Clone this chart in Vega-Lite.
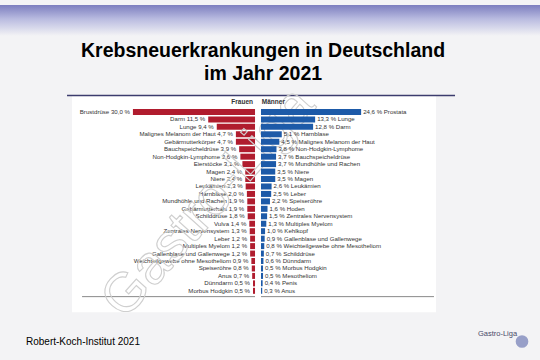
{
  "$schema": "https://vega.github.io/schema/vega-lite/v6.json",
  "width": 540,
  "height": 360,
  "autosize": {"type": "fit", "contains": "padding"},
  "padding": 0,
  "background": "#f3f3f5",
  "config": {"view": {"stroke": null}, "font": "Liberation Sans"},
  "datasets": {
    "deko": [{"k": 1}],
    "frauen": [
      {"rank": 1, "value": 30.0, "label": "Brustdrüse 30,0 %"},
      {"rank": 2, "value": 11.5, "label": "Darm 11,5 %"},
      {"rank": 3, "value": 9.4, "label": "Lunge 9,4 %"},
      {"rank": 4, "value": 4.7, "label": "Malignes Melanom der Haut 4,7 %"},
      {"rank": 5, "value": 4.7, "label": "Gebärmutterkörper 4,7 %"},
      {"rank": 6, "value": 3.9, "label": "Bauchspeicheldrüse 3,9 %"},
      {"rank": 7, "value": 3.6, "label": "Non-Hodgkin-Lymphome 3,6 %"},
      {"rank": 8, "value": 3.1, "label": "Eierstöcke 3,1 %"},
      {"rank": 9, "value": 2.4, "label": "Magen 2,4 %"},
      {"rank": 10, "value": 2.4, "label": "Niere 2,4 %"},
      {"rank": 11, "value": 2.3, "label": "Leukämien 2,3 %"},
      {"rank": 12, "value": 2.0, "label": "Harnblase 2,0 %"},
      {"rank": 13, "value": 1.9, "label": "Mundhöhle und Rachen 1,9 %"},
      {"rank": 14, "value": 1.9, "label": "Gebärmutterhals 1,9 %"},
      {"rank": 15, "value": 1.8, "label": "Schilddrüse 1,8 %"},
      {"rank": 16, "value": 1.4, "label": "Vulva 1,4 %"},
      {"rank": 17, "value": 1.3, "label": "Zentrales Nervensystem 1,3 %"},
      {"rank": 18, "value": 1.2, "label": "Leber 1,2 %"},
      {"rank": 19, "value": 1.2, "label": "Multiples Myelom 1,2 %"},
      {"rank": 20, "value": 1.2, "label": "Gallenblase und Gallenwege 1,2 %"},
      {"rank": 21, "value": 0.9, "label": "Weichteilgewebe ohne Mesotheliom 0,9 %"},
      {"rank": 22, "value": 0.8, "label": "Speiseröhre 0,8 %"},
      {"rank": 23, "value": 0.7, "label": "Anus 0,7 %"},
      {"rank": 24, "value": 0.5, "label": "Dünndarm 0,5 %"},
      {"rank": 25, "value": 0.5, "label": "Morbus Hodgkin 0,5 %"}
    ],
    "maenner": [
      {"rank": 1, "value": 24.6, "label": "24,6 % Prostata"},
      {"rank": 2, "value": 13.3, "label": "13,3 % Lunge"},
      {"rank": 3, "value": 12.8, "label": "12,8 % Darm"},
      {"rank": 4, "value": 5.1, "label": "5,1 % Harnblase"},
      {"rank": 5, "value": 4.5, "label": "4,5 % Malignes Melanom der Haut"},
      {"rank": 6, "value": 3.8, "label": "3,8 % Non-Hodgkin-Lymphome"},
      {"rank": 7, "value": 3.7, "label": "3,7 % Bauchspeicheldrüse"},
      {"rank": 8, "value": 3.7, "label": "3,7 % Mundhöhle und Rachen"},
      {"rank": 9, "value": 3.5, "label": "3,5 % Niere"},
      {"rank": 10, "value": 3.5, "label": "3,5 % Magen"},
      {"rank": 11, "value": 2.6, "label": "2,6 % Leukämien"},
      {"rank": 12, "value": 2.5, "label": "2,5 % Leber"},
      {"rank": 13, "value": 2.2, "label": "2,2 % Speiseröhre"},
      {"rank": 14, "value": 1.6, "label": "1,6 % Hoden"},
      {"rank": 15, "value": 1.5, "label": "1,5 % Zentrales Nervensystem"},
      {"rank": 16, "value": 1.3, "label": "1,3 % Multiples Myelom"},
      {"rank": 17, "value": 1.0, "label": "1,0 % Kehlkopf"},
      {"rank": 18, "value": 0.9, "label": "0,9 % Gallenblase und Gallenwege"},
      {"rank": 19, "value": 0.8, "label": "0,8 % Weichteilgewebe ohne Mesotheliom"},
      {"rank": 20, "value": 0.7, "label": "0,7 % Schilddrüse"},
      {"rank": 21, "value": 0.6, "label": "0,6 % Dünndarm"},
      {"rank": 22, "value": 0.5, "label": "0,5 % Morbus Hodgkin"},
      {"rank": 23, "value": 0.5, "label": "0,5 % Mesotheliom"},
      {"rank": 24, "value": 0.4, "label": "0,4 % Penis"},
      {"rank": 25, "value": 0.3, "label": "0,3 % Anus"}
    ]
  },
  "resolve": {"scale": {"x": "independent"}, "axis": {"x": "independent"}},
  "layer": [
    {
      "layer": [
        {
          "data": {"name": "frauen"},
          "mark": {"type": "bar", "orient": "horizontal", "size": 6, "color": "#b01c2e", "opacity": 0},
          "encoding": {
            "x": {
              "field": "value", "type": "quantitative",
              "scale": {"domain": [-70.02, 62.66], "reverse": true, "nice": false, "zero": false},
              "axis": {"orient": "bottom", "offset": -60, "values": [0, 6, 12, 18, 24, 30, 36], "domain": false, "grid": false, "tickSize": 3, "tickColor": "#888888", "labelFontSize": 6, "labelColor": "#444444", "labelPadding": 1.5, "title": null, "labelFont": "Liberation Sans"}
            },
            "x2": {"datum": 0},
            "y": {
              "field": "rank", "type": "quantitative",
              "scale": {"domain": [-13.348, 33.61], "reverse": true, "nice": false, "zero": false},
              "axis": null
            }
          }
        },
        {
          "data": {"name": "deko"},
          "mark": {"type": "rect", "color": {"gradient": "linear", "x1": 0, "y1": 0, "x2": 0, "y2": 1, "stops": [{"offset": 0, "color": "#7c7ebf"}, {"offset": 0.45, "color": "#b9bbe0"}, {"offset": 1, "color": "#f3f3f5"}]}},
          "encoding": {
            "x": {"datum": 62.66, "type": "quantitative", "axis": null},
            "x2": {"datum": -70.02},
            "y": {"datum": -13.348, "type": "quantitative", "axis": null},
            "y2": {"datum": -9.2}
          }
        },
        {
          "data": {"name": "deko"},
          "mark": {"type": "text", "text": "Krebsneuerkrankungen in Deutschland", "fontSize": 19.5, "fontWeight": "bold", "align": "center", "baseline": "alphabetic", "color": "#000000"},
          "encoding": {
            "x": {"datum": -1.97, "type": "quantitative", "axis": null},
            "y": {"datum": -6.435, "type": "quantitative", "axis": null}
          }
        },
        {
          "data": {"name": "deko"},
          "mark": {"type": "text", "text": "im Jahr 2021", "fontSize": 19.5, "fontWeight": "bold", "align": "center", "baseline": "alphabetic", "color": "#000000"},
          "encoding": {
            "x": {"datum": -1.97, "type": "quantitative", "axis": null},
            "y": {"datum": -3.304, "type": "quantitative", "axis": null}
          }
        },
        {
          "data": {"name": "deko"},
          "mark": {"type": "rect", "color": "#ffffff"},
          "encoding": {
            "x": {"datum": 44.96, "type": "quantitative", "axis": null},
            "x2": {"datum": -44.47},
            "y": {"datum": -1.217, "type": "quantitative", "axis": null},
            "y2": {"datum": 27.87}
          }
        },
        {
          "data": {"name": "deko"},
          "mark": {"type": "rule", "color": "#3c3c6e", "strokeWidth": 1.5},
          "encoding": {
            "x": {"datum": 46.19, "type": "quantitative", "axis": null},
            "x2": {"datum": -49.14},
            "y": {"datum": -1.217, "type": "quantitative", "axis": null}
          }
        },
        {
          "data": {"name": "deko"},
          "mark": {"type": "text", "text": "Robert-Koch-Institut 2021", "fontSize": 10, "align": "left", "baseline": "middle", "color": "#000000"},
          "encoding": {
            "x": {"datum": 56.27, "type": "quantitative", "axis": null},
            "y": {"datum": 31.8, "type": "quantitative", "axis": null}
          }
        },
        {
          "data": {"name": "deko"},
          "mark": {"type": "text", "text": "Gastro-Liga", "fontSize": 7.5, "align": "center", "baseline": "middle", "color": "#4a4a6a"},
          "encoding": {
            "x": {"datum": -59.58, "type": "quantitative", "axis": null},
            "y": {"datum": 30.8, "type": "quantitative", "axis": null}
          }
        },
        {
          "data": {"name": "deko"},
          "mark": {"type": "point", "filled": true, "shape": "circle", "size": 160, "color": "#5a68aa", "opacity": 0.6},
          "encoding": {
            "x": {"datum": -65.6, "type": "quantitative", "axis": null},
            "y": {"datum": 31.8, "type": "quantitative", "axis": null}
          }
        },
        {
          "data": {"name": "deko"},
          "mark": {"type": "rule", "color": "#8a8a8a", "strokeWidth": 1},
          "encoding": {
            "x": {"datum": 0, "type": "quantitative", "axis": null},
            "x2": {"datum": 42.5},
            "y": {"datum": 25.78, "type": "quantitative", "axis": null}
          }
        },
        {
          "data": {"name": "frauen"},
          "mark": {"type": "bar", "orient": "horizontal", "size": 6, "color": "#b01c2e"},
          "encoding": {
            "x": {"field": "value", "type": "quantitative", "axis": null},
            "x2": {"datum": 0},
            "y": {"field": "rank", "type": "quantitative", "axis": null}
          }
        },
        {
          "data": {"name": "frauen"},
          "mark": {"type": "text", "align": "right", "baseline": "middle", "dx": -3, "fontSize": 6.1, "color": "#333333"},
          "encoding": {
            "x": {"field": "value", "type": "quantitative", "axis": null},
            "y": {"field": "rank", "type": "quantitative", "axis": null},
            "text": {"field": "label"}
          }
        },
        {
          "data": {"name": "deko"},
          "mark": {"type": "text", "text": "Frauen", "align": "right", "baseline": "middle", "fontSize": 6.5, "fontWeight": "bold", "color": "#333333"},
          "encoding": {
            "x": {"datum": 0.5, "type": "quantitative", "axis": null},
            "y": {"datum": -0.304, "type": "quantitative", "axis": null}
          }
        },
        {
          "data": {"name": "deko"},
          "mark": {"type": "text", "text": "Gastro-Liga", "fontSize": 55, "angle": -48, "align": "center", "baseline": "middle", "fillOpacity": 0, "stroke": "#cfcfcf", "strokeWidth": 1.1},
          "encoding": {
            "x": {"datum": 11.55, "type": "quantitative", "axis": null},
            "y": {"datum": 13.13, "type": "quantitative", "axis": null}
          }
        }
      ]
    },
    {
      "layer": [
        {
          "data": {"name": "maenner"},
          "mark": {"type": "bar", "orient": "horizontal", "size": 6, "color": "#1d5aa8"},
          "encoding": {
            "x": {
              "field": "value", "type": "quantitative",
              "scale": {"domain": [-64.13, 68.55], "nice": false, "zero": false},
              "axis": {"orient": "bottom", "offset": -60, "values": [0, 6, 12, 18, 24, 30, 36], "domain": false, "grid": false, "tickSize": 3, "tickColor": "#888888", "labelFontSize": 6, "labelColor": "#444444", "labelPadding": 1.5, "title": null, "labelFont": "Liberation Sans"}
            },
            "x2": {"datum": 0},
            "y": {"field": "rank", "type": "quantitative", "axis": null}
          }
        },
        {
          "data": {"name": "deko"},
          "mark": {"type": "rule", "color": "#8a8a8a", "strokeWidth": 1},
          "encoding": {
            "x": {"datum": 0, "type": "quantitative", "axis": null},
            "x2": {"datum": 42.5},
            "y": {"datum": 25.78, "type": "quantitative", "axis": null}
          }
        },
        {
          "data": {"name": "maenner"},
          "mark": {"type": "text", "align": "left", "baseline": "middle", "dx": 2, "fontSize": 6.1, "color": "#333333"},
          "encoding": {
            "x": {"field": "value", "type": "quantitative", "axis": null},
            "y": {"field": "rank", "type": "quantitative", "axis": null},
            "text": {"field": "label"}
          }
        },
        {
          "data": {"name": "deko"},
          "mark": {"type": "text", "text": "Männer", "align": "left", "baseline": "middle", "fontSize": 6.5, "fontWeight": "bold", "color": "#333333"},
          "encoding": {
            "x": {"datum": 0.2, "type": "quantitative", "axis": null},
            "y": {"datum": -0.304, "type": "quantitative", "axis": null}
          }
        }
      ]
    }
  ]
}
